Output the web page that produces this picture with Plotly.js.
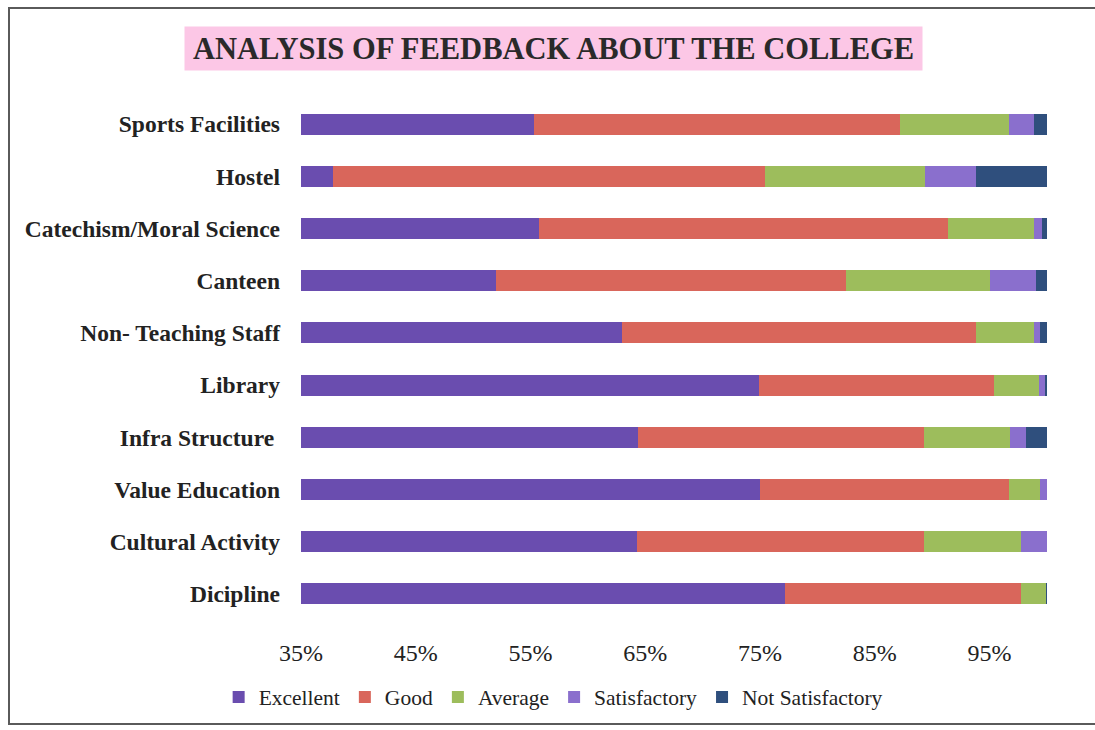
<!DOCTYPE html>
<html>
<head>
<meta charset="utf-8">
<script src="https://cdn.plot.ly/plotly-3.0.1.min.js"></script>
<style>
  html, body { margin: 0; padding: 0; background: #ffffff; overflow: hidden; }
  #wrap { position: relative; width: 1095px; height: 730px; overflow: hidden; }
  #chart { position: absolute; left: 0; top: 0; width: 1095px; height: 730px; }
  #frame { position: absolute; left: 8px; top: 7px; width: 1300px; height: 718px;
           border: 2px solid #5a5a5a; border-right: none; pointer-events: none; box-sizing: border-box; }
</style>
</head>
<body>
<div id="wrap">
  <div id="chart"></div>
  <div id="frame"></div>
</div>
<script>
// Categories, top to bottom
const categories = [
  "Sports Facilities",
  "Hostel",
  "Catechism/Moral Science",
  "Canteen",
  "Non- Teaching Staff",
  "Library",
  "Infra Structure\u00a0",
  "Value Education",
  "Cultural Activity",
  "Dicipline"
];

// Percentages per rating (same order as categories)
const excellent       = [55.3, 37.8, 55.7, 52.0, 63.0, 74.9, 64.4, 75.0, 64.3, 77.2];
const good            = [31.9, 37.6, 35.7, 30.5, 30.8, 20.5, 24.9, 21.7, 25.0, 20.5];
const average         = [ 9.5, 14.0,  7.5, 12.5,  5.1,  3.9,  7.5,  2.7,  8.4,  2.2];
const satisfactory    = [ 2.2,  4.4,  0.7,  4.0,  0.5,  0.5,  1.4,  0.6,  2.3,  0.0];
const notSatisfactory = [ 1.1,  6.2,  0.4,  1.0,  0.6,  0.2,  1.8,  0.0,  0.0,  0.1];

const seriesNames = ["Excellent", "Good", "Average", "Satisfactory", "Not Satisfactory"];
const seriesValues = [excellent, good, average, satisfactory, notSatisfactory];
const seriesColors = ["#6a4daf", "#d9665b", "#9dbd5c", "#8a6fcd", "#2f4f7d"];

const tickVals = [35, 45, 55, 65, 75, 85, 95];
const tickText = ["35%", "45%", "55%", "65%", "75%", "85%", "95%"];

const traces = seriesNames.map((name, i) => ({
  type: "bar",
  orientation: "h",
  name: name,
  y: categories,
  x: seriesValues[i],
  marker: { color: seriesColors[i], line: { width: 0 } },
  hoverinfo: "x+y+name"
}));

const serif = "'Liberation Serif', 'DejaVu Serif', serif";

const layout = {
  width: 1095,
  height: 730,
  margin: { l: 301, r: 48, t: 98, b: 110, pad: 0 },
  paper_bgcolor: "rgba(0,0,0,0)",
  plot_bgcolor: "rgba(0,0,0,0)",
  barmode: "stack",
  bargap: 0.6,
  showlegend: true,
  xaxis: {
    range: [35, 100],
    tickvals: tickVals,
    ticktext: tickText,
    showgrid: false,
    zeroline: false,
    showline: false,
    ticks: "",
    ticklabelstandoff: 16,
    tickfont: { family: serif, size: 24, color: "#222222" },
    fixedrange: true
  },
  yaxis: {
    autorange: "reversed",
    showgrid: false,
    zeroline: false,
    showline: false,
    ticks: "",
    ticklabelstandoff: 20,
    tickfont: { family: serif, size: 23.5, color: "#222222", weight: "bold" },
    fixedrange: true
  },
  legend: {
    orientation: "h",
    x: 0.338,
    xanchor: "center",
    y: -0.1475,
    yanchor: "middle",
    font: { family: serif, size: 21.5, color: "#222222" },
    traceorder: "normal",
    itemwidth: 30
  },
  annotations: [{
    text: "<b>ANALYSIS OF FEEDBACK ABOUT THE COLLEGE</b>",
    xref: "paper",
    yref: "paper",
    x: 0.3385,
    y: 1.0948,
    xanchor: "center",
    yanchor: "middle",
    showarrow: false,
    bgcolor: "#fcc7e6",
    width: 737,
    height: 43,
    borderpad: 0,
    font: { family: serif, size: 30.5, color: "#2a2a2a" }
  }]
};

Plotly.newPlot("chart", traces, layout, { displayModeBar: false, staticPlot: true });
</script>
</body>
</html>
